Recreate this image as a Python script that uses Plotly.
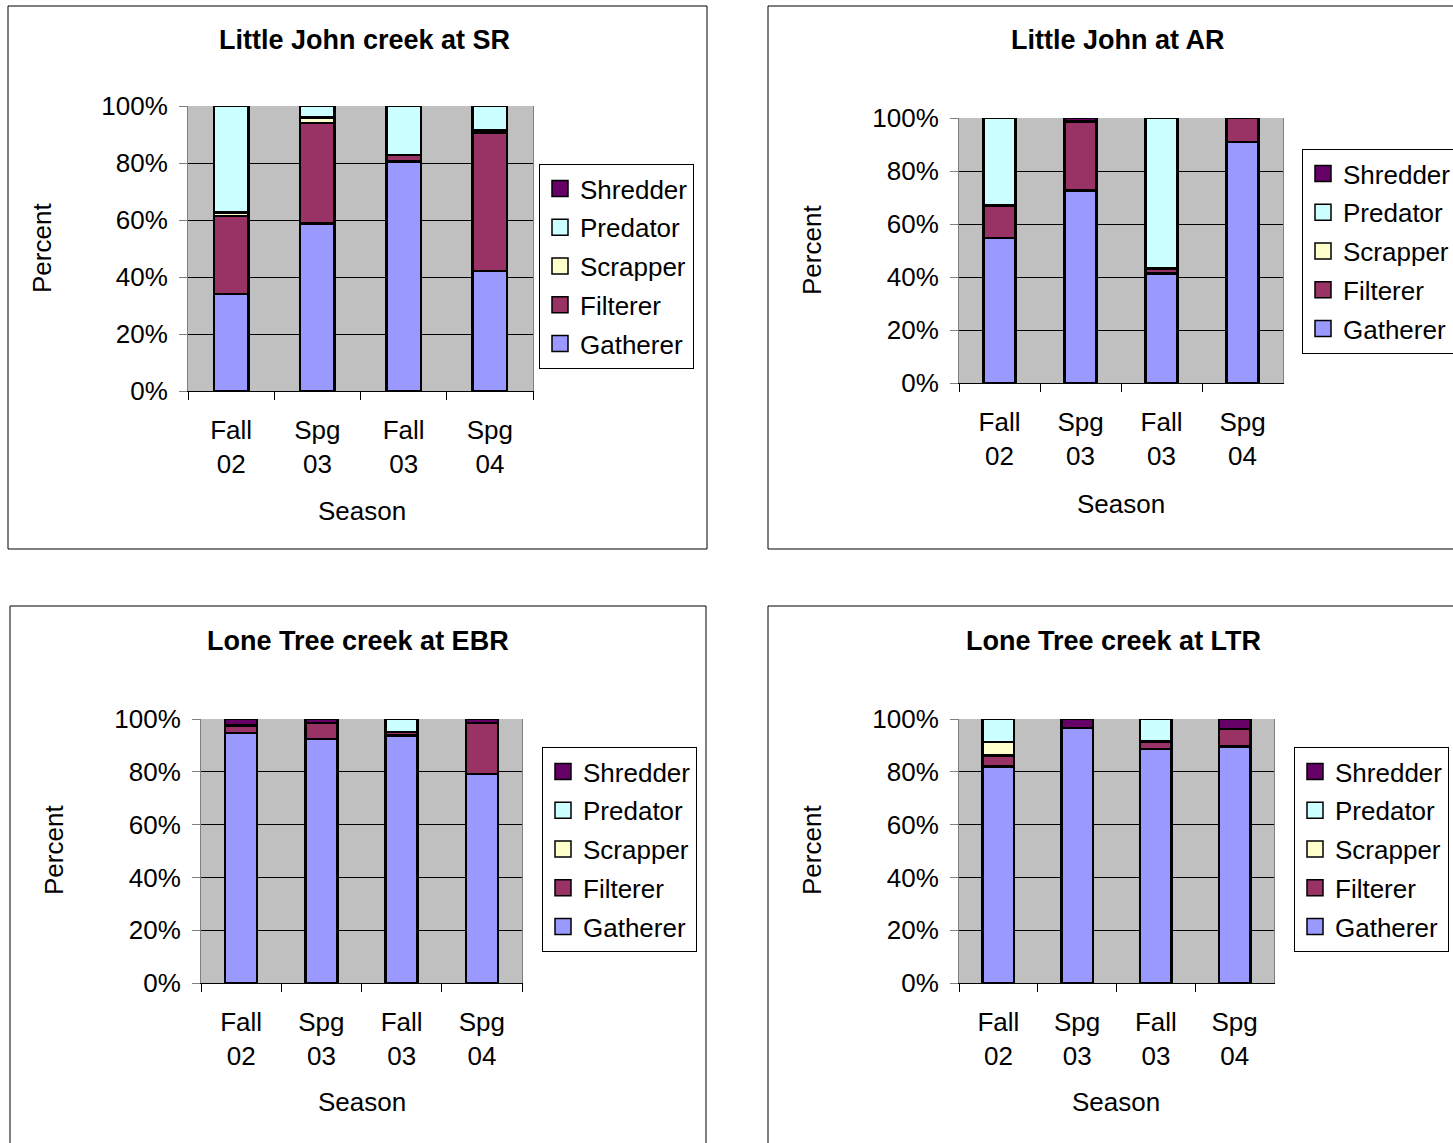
import plotly.graph_objects as go

W, H = 1453, 1143

seasons = ["Fall<br>02", "Spg<br>03", "Fall<br>03", "Spg<br>04"]
groups = ["Gatherer", "Filterer", "Scrapper", "Predator", "Shredder"]
colors = {"Gatherer": "#9999FF", "Filterer": "#993366", "Scrapper": "#FFFFCC",
          "Predator": "#CCFFFF", "Shredder": "#660066"}

# Percent values
sr_gatherer = [34.1, 58.8, 80.6, 42.1]
sr_filterer = [27.3, 35.3, 2.2, 48.5]
sr_scrapper = [1.2, 1.8, 0.0, 0.8]
sr_predator = [37.4, 4.1, 17.2, 8.6]
sr_shredder = [0.0, 0.0, 0.0, 0.0]

ar_gatherer = [54.7, 72.7, 41.3, 90.9]
ar_filterer = [12.2, 26.0, 2.0, 9.1]
ar_scrapper = [0.0, 0.0, 0.0, 0.0]
ar_predator = [33.1, 0.0, 56.7, 0.0]
ar_shredder = [0.0, 1.3, 0.0, 0.0]

ebr_gatherer = [94.7, 92.4, 93.7, 79.1]
ebr_filterer = [2.8, 6.1, 1.3, 19.4]
ebr_scrapper = [0.0, 0.0, 0.0, 0.0]
ebr_predator = [0.0, 0.0, 5.0, 0.0]
ebr_shredder = [2.5, 1.5, 0.0, 1.5]

ltr_gatherer = [82.0, 96.5, 88.6, 89.5]
ltr_filterer = [4.1, 0.0, 2.8, 6.7]
ltr_scrapper = [5.1, 0.0, 0.0, 0.0]
ltr_predator = [8.8, 0.0, 8.6, 0.0]
ltr_shredder = [0.0, 3.5, 0.0, 3.8]

titles = ["Little John creek at SR", "Little John at AR",
          "Lone Tree creek at EBR", "Lone Tree creek at LTR"]

charts = [
    dict(data=[sr_gatherer, sr_filterer, sr_scrapper, sr_predator, sr_shredder],
         plot=(188, 106, 533, 391), panel=(8, 6, 707, 549), legend=(539, 164),
         title=(364, 40), ytitle=(42, 248), xtitle=(362, 511)),
    dict(data=[ar_gatherer, ar_filterer, ar_scrapper, ar_predator, ar_shredder],
         plot=(959, 118, 1283, 383), panel=(768, 6, 1480, 549), legend=(1302, 149),
         title=(1118, 40), ytitle=(812, 250), xtitle=(1121, 504)),
    dict(data=[ebr_gatherer, ebr_filterer, ebr_scrapper, ebr_predator, ebr_shredder],
         plot=(201, 719, 522, 983), panel=(10, 606, 706, 1170), legend=(542, 747),
         title=(358, 641), ytitle=(54, 850), xtitle=(362, 1102)),
    dict(data=[ltr_gatherer, ltr_filterer, ltr_scrapper, ltr_predator, ltr_shredder],
         plot=(959, 719, 1274, 983), panel=(768, 606, 1480, 1170), legend=(1294, 747),
         title=(1113, 641), ytitle=(812, 850), xtitle=(1116, 1102)),
]

FONT = "Liberation Sans, Arial, sans-serif"
FS = 26


def px(x):
    return x / W


def py(y):
    return 1 - y / H


fig = go.Figure()
shapes = []
annotations = []
layout = {}

for i, ch in enumerate(charts):
    n = "" if i == 0 else str(i + 1)
    xa, ya = "x" + n, "y" + n
    lg = "legend" + n
    for g, vals in zip(groups, ch["data"]):
        fig.add_trace(go.Bar(
            x=seasons, y=[v / 100 for v in vals], name=g,
            xaxis=xa, yaxis=ya, showlegend=False,
            marker=dict(color=colors[g], line=dict(color="black", width=2.5)),
            hoverinfo="skip"))
    # legend entries (Shredder at top, as in the original)
    for g in reversed(groups):
        fig.add_trace(go.Scatter(
            x=[None], y=[None], mode="markers", name=g, xaxis=xa, yaxis=ya,
            legend=lg, legendgroup=f"{i}_{g}", showlegend=True,
            marker=dict(symbol="square", size=16, color=colors[g],
                        line=dict(color="black", width=1.5))))
    x0, y0, x1, y1 = ch["plot"]
    layout["xaxis" + n] = dict(
        domain=[px(x0), px(x1)], anchor=ya, type="category",
        tickson="boundaries", ticks="outside", ticklen=8, tickcolor="black",
        tickwidth=1, showline=True, linecolor="black", linewidth=1,
        showgrid=False, ticklabelstandoff=16,
        tickfont=dict(family=FONT, size=FS, color="black"))
    layout["yaxis" + n] = dict(
        domain=[py(y1), py(y0)], anchor=xa, range=[0, 1], dtick=0.2,
        tickformat=".0%", ticks="outside", ticklen=8, tickcolor="#808080",
        showline=True, linecolor="#808080", mirror=True, linewidth=1,
        showgrid=True, gridcolor="black", gridwidth=1, zeroline=False,
        ticklabelstandoff=6,
        tickfont=dict(family=FONT, size=FS, color="black"))
    lx, ly = ch["legend"]
    layout[lg] = dict(
        x=px(lx), y=py(ly), xanchor="left", yanchor="top",
        xref="paper", yref="paper", traceorder="grouped", itemsizing="trace",
        tracegroupgap=2, bgcolor="white", bordercolor="black", borderwidth=1,
        font=dict(family=FONT, size=FS, color="black"))
    # outer chart border
    a0, b0, a1, b1 = ch["panel"]
    shapes.append(dict(type="rect", xref="paper", yref="paper",
                       x0=px(a0), x1=px(a1), y0=py(b1), y1=py(b0),
                       line=dict(color="black", width=1), layer="below"))
    tx, ty = ch["title"]
    annotations.append(dict(text="<b>" + titles[i] + "</b>", x=px(tx), y=py(ty),
                            xref="paper", yref="paper", showarrow=False,
                            xanchor="center", yanchor="middle",
                            font=dict(family=FONT, size=27, color="black")))
    yx, yy = ch["ytitle"]
    annotations.append(dict(text="Percent", x=px(yx), y=py(yy), xref="paper",
                            yref="paper", showarrow=False, textangle=-90,
                            xanchor="center", yanchor="middle",
                            font=dict(family=FONT, size=FS, color="black")))
    sx, sy = ch["xtitle"]
    annotations.append(dict(text="Season", x=px(sx), y=py(sy), xref="paper",
                            yref="paper", showarrow=False,
                            xanchor="center", yanchor="middle",
                            font=dict(family=FONT, size=FS, color="black")))

fig.update_layout(
    width=W, height=H, margin=dict(l=0, r=0, t=0, b=0, autoexpand=False),
    paper_bgcolor="white", plot_bgcolor="#C0C0C0",
    barmode="stack", bargap=0.6, showlegend=True,
    shapes=shapes, annotations=annotations,
    font=dict(family=FONT, size=FS, color="black"),
    **layout)

fig.write_html("out.html",
               config={"displayModeBar": False},
               post_script="document.body.style.margin='0px';"
                           "document.body.style.overflow='hidden';")
